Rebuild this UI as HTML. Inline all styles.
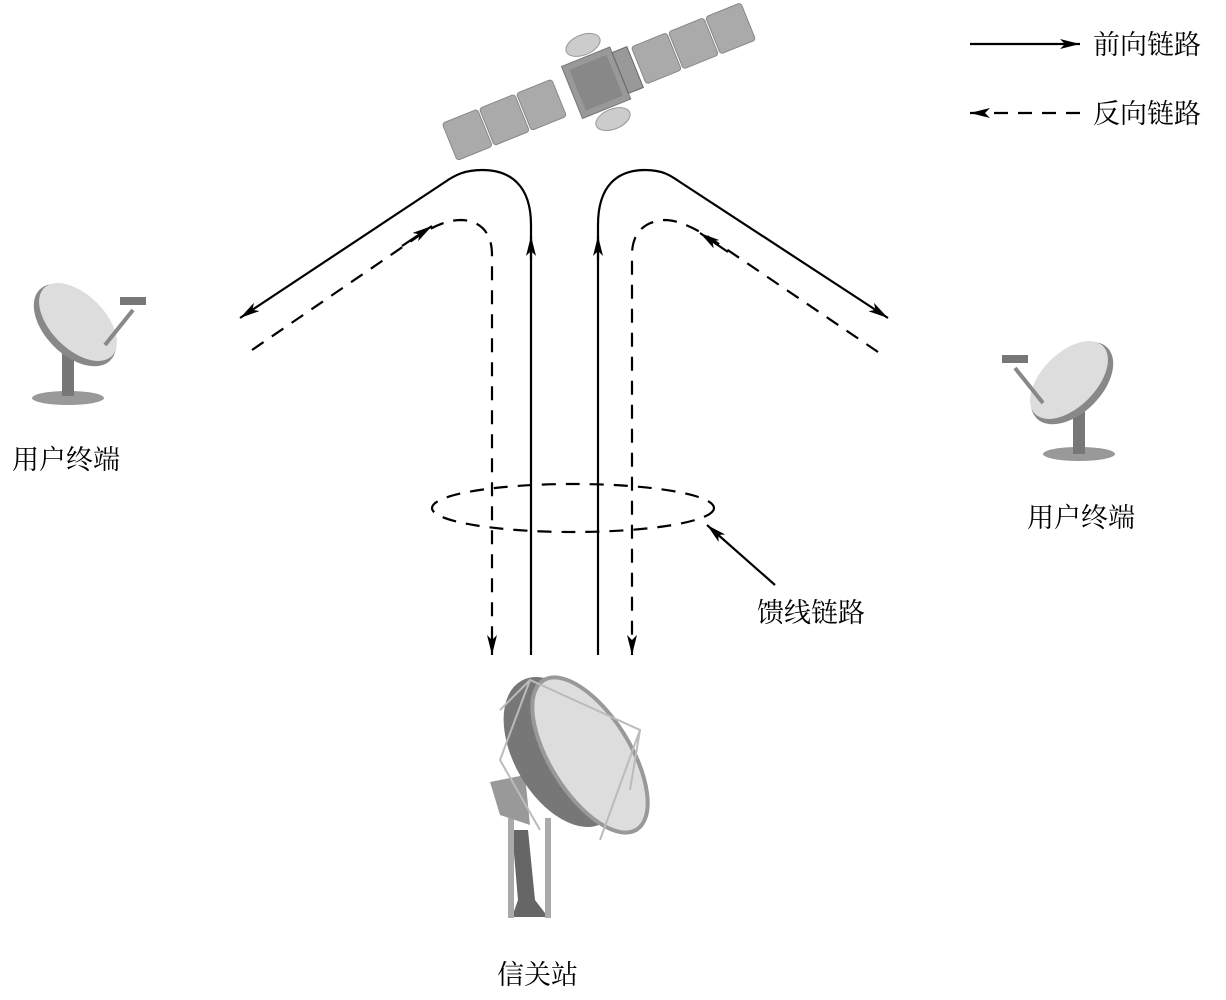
<!DOCTYPE html>
<html><head><meta charset="utf-8"><style>
body{margin:0;background:#fff;}
svg{display:block}
text{font-family:"Liberation Serif","Noto Serif CJK SC","Noto Sans CJK SC",serif;font-size:27px;fill:#000}
</style></head><body>
<svg width="1226" height="1000" viewBox="0 0 1226 1000" xmlns="http://www.w3.org/2000/svg">
<defs>
<marker id="a" viewBox="0 0 20 10" refX="20" refY="5" markerWidth="20" markerHeight="10" markerUnits="userSpaceOnUse" orient="auto"><path d="M0,0 L20,5 L0,10 L5,5z" fill="#000"/></marker>
</defs>
<g fill="none" stroke="#000" stroke-width="2.2">
<path d="M531,655 L531,225 C531,185 510,170 482,170 C465,170 455,175 445,182 L240,318" marker-end="url(#a)"/>
<path d="M531,260 L531,236" marker-end="url(#a)"/>
<path d="M598,655 L598,225 C598,185 618,170 645,170 C662,170 670,175 680,182 L888,318" marker-end="url(#a)"/>
<path d="M598,260 L598,236" marker-end="url(#a)"/>
<g stroke-dasharray="14,10">
<path d="M252,350 L420,235 C440,222 452,220 462,220 C480,221 492,232 492,255 L492,655" marker-end="url(#a)"/>
<path d="M878,352 L710,238 C690,225 675,220 665,220 C645,221 632,232 632,255 L632,655" marker-end="url(#a)"/>
<ellipse cx="573" cy="508" rx="141" ry="24"/>
<path d="M1080,113 L970,113" marker-end="url(#a)"/>
</g>
<path d="M402,246 L432,226" marker-end="url(#a)"/>
<path d="M728,252 L700,233" marker-end="url(#a)"/>
<path d="M775,585 L707,525" marker-end="url(#a)"/>
<path d="M970,44 L1080,44" marker-end="url(#a)"/>
</g>
<!-- satellite -->
<g transform="translate(598,82) rotate(-22)">
<g fill="#aaa" stroke="#888">
<rect x="-160" y="-20" width="38" height="40" rx="3"/><rect x="-120" y="-20" width="38" height="40" rx="3"/><rect x="-80" y="-20" width="38" height="40" rx="3"/>
<rect x="44" y="-20" width="38" height="40" rx="3"/><rect x="84" y="-20" width="38" height="40" rx="3"/><rect x="124" y="-20" width="38" height="40" rx="3"/>
</g>
<ellipse cx="0" cy="-40" rx="18" ry="10" fill="#ccc" stroke="#999"/>
<ellipse cx="0" cy="40" rx="18" ry="10" fill="#ccc" stroke="#999"/>
<rect x="-28" y="-28" width="52" height="56" fill="#999" stroke="#777"/>
<rect x="-22" y="-22" width="40" height="44" fill="#888"/>
<rect x="24" y="-22" width="16" height="44" fill="#999" stroke="#666"/>
</g>
<!-- left dish -->
<g>
<ellipse cx="68" cy="398" rx="36" ry="7" fill="#999"/>
<rect x="62" y="350" width="12" height="46" fill="#777"/>
<ellipse cx="75" cy="325" rx="50" ry="30" transform="rotate(45 75 325)" fill="#888"/>
<ellipse cx="78" cy="322" rx="48" ry="27" transform="rotate(45 78 322)" fill="#ddd"/>
<path d="M105,345 L133,310" stroke="#888" stroke-width="4"/>
<rect x="120" y="297" width="26" height="8" fill="#777"/>
</g>
<!-- right dish -->
<g>
<ellipse cx="1079" cy="454" rx="36" ry="7" fill="#999"/>
<rect x="1073" y="408" width="12" height="46" fill="#777"/>
<ellipse cx="1072" cy="383" rx="50" ry="30" transform="rotate(-45 1072 383)" fill="#888"/>
<ellipse cx="1069" cy="380" rx="48" ry="27" transform="rotate(-45 1069 380)" fill="#ddd"/>
<path d="M1043,403 L1015,368" stroke="#888" stroke-width="4"/>
<rect x="1002" y="355" width="26" height="8" fill="#777"/>
</g>
<!-- gateway -->
<g>
<path d="M512,830 L528,830 L535,900 L548,917 L512,917 L518,900z" fill="#666"/>
<rect x="508" y="818" width="6" height="100" fill="#aaa"/>
<rect x="545" y="818" width="6" height="100" fill="#aaa"/>
<path d="M490,782 L525,775 L530,825 L500,815z" fill="#999"/>
<ellipse cx="562" cy="752" rx="48" ry="82" transform="rotate(-30 562 752)" fill="#777"/>
<ellipse cx="590" cy="755" rx="40" ry="88" transform="rotate(-32 590 755)" fill="#ddd" stroke="#999" stroke-width="4"/>
<path d="M500,710 L530,680 L640,730 L630,790 M530,680 L500,760 L540,830 M600,840 L640,730" fill="none" stroke="#bbb" stroke-width="2"/>
</g>
<text x="12" y="469">用户终端</text>
<text x="1027" y="527">用户终端</text>
<text x="757" y="622">馈线链路</text>
<text x="497" y="984">信关站</text>
<text x="1093" y="54">前向链路</text>
<text x="1093" y="123">反向链路</text>
</svg>
</body></html>
